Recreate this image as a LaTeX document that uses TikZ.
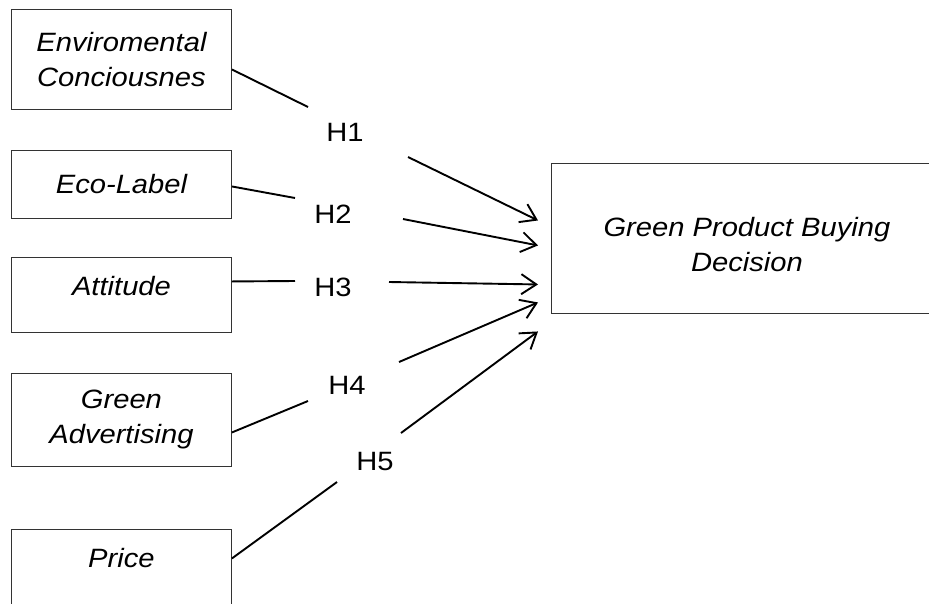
\documentclass[tikz,border=0pt]{standalone}
\usepackage{fontspec}
\setmainfont{Liberation Sans}[FakeStretch=1.1]
\usetikzlibrary{
	arrows.meta,
	calc,
}

\begin{document}
\begin{tikzpicture} [
			x=1pt,y=-1pt,
			every node/.style={align=center},
			var/.style={draw=black!80,line width=0.9pt,minimum width=220pt,inner sep=0pt,font=\fontsize{26.5}{35}\selectfont\itshape},
			hyp/.style={inner sep=0pt,font=\fontsize{26.5}{32}\selectfont},
			link/.style={line width=1.9pt},
			effect/.style={line width=1.9pt,-{Straight Barb[length=15pt,width=20pt]}}
		]
		\useasboundingbox (0,0) rectangle (929,603);

		% variables
		\node [var, minimum height=100pt, anchor=north west] (env) at (11,9) {Enviromental \\ Conciousnes};
		\node [var, minimum height=68pt, anchor=north west] (eco) at (11,150) {Eco-Label};
		\node [var, text height=38pt, text depth=37pt, anchor=north west] (att) at (11,257) {Attitude};
		\node [var, minimum height=93pt, anchor=north west] (adv) at (11,373) {Green \\ Advertising};
		\node [var, text height=38pt, text depth=50pt, anchor=north west] (price) at (11,529) {Price};
		\node [var, minimum width=391pt, minimum height=150pt, text height=70pt, text depth=4pt, anchor=north west] (dec) at (551,163) {Green Product Buying \\ Decision};

		% hypotheses
		\node [hyp] (h1) at (345,132) {H1};
		\node [hyp] (h2) at (333,214) {H2};
		\node [hyp] (h3) at (333,287) {H3};
		\node [hyp] (h4) at (347,385) {H4};
		\node [hyp] (h5) at (375,462) {H5};

		\coordinate (h1in) at ($(h1)+(-37,-25)$);
		\coordinate (h1out) at ($(h1)+(63,25)$);
		\coordinate (h2in) at ($(h2)+(-38,-16)$);
		\coordinate (h2out) at ($(h2)+(70,5)$);
		\coordinate (h3in) at ($(h3)+(-38,-6)$);
		\coordinate (h3out) at ($(h3)+(56,-5)$);
		\coordinate (h4in) at ($(h4)+(-39,16)$);
		\coordinate (h4out) at ($(h4)+(52,-23)$);
		\coordinate (h5in) at ($(h5)+(-38,20)$);
		\coordinate (h5out) at ($(h5)+(26,-29)$);

		\coordinate (d1) at ($(dec.west)+(-13,-18)$);
		\coordinate (d2) at ($(dec.west)+(-13,7)$);
		\coordinate (d3) at ($(dec.west)+(-13,46)$);
		\coordinate (d4) at ($(dec.west)+(-13,64)$);
		\coordinate (d5) at ($(dec.west)+(-13,93)$);

		\draw[link] ($(env.east)+(0,10)$) -- (h1in);
		\draw[effect] (h1out) -- (d1);
		\draw[link] ($(eco.east)+(0,2)$) -- (h2in);
		\draw[effect] (h2out) -- (d2);
		\draw[link] ($(att.east)+(0,-13.5)$) -- (h3in);
		\draw[effect] (h3out) -- (d3);
		\draw[link] ($(adv.east)+(0,12.5)$) -- (h4in);
		\draw[effect] (h4out) -- (d4);
		\draw[link] ($(price.east)+(0,-15)$) -- (h5in);
		\draw[effect] (h5out) -- (d5);
	\end{tikzpicture}
\end{document}
